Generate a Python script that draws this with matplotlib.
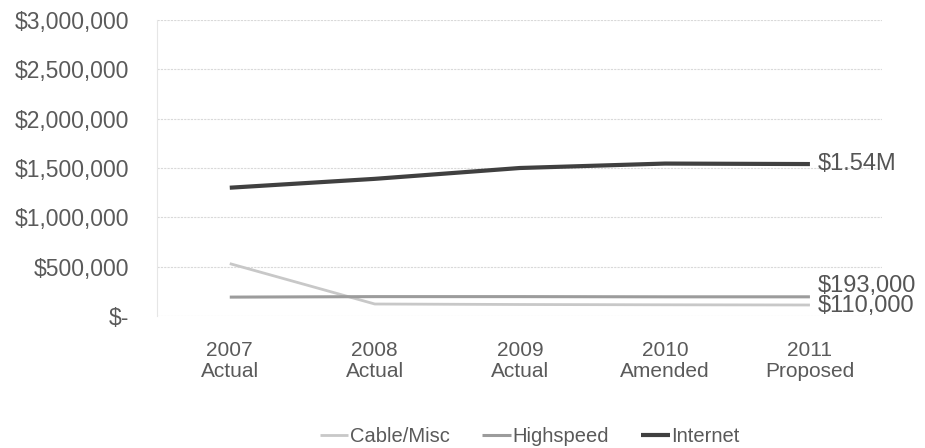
import matplotlib
matplotlib.use("Agg")
import matplotlib.pyplot as plt
from matplotlib.ticker import FuncFormatter

plt.rcParams['font.family'] = ['Liberation Sans', 'DejaVu Sans']

# data
categories = ["2007\nActual", "2008\nActual", "2009\nActual", "2010\nAmended", "2011\nProposed"]
cable_misc = [530000, 120000, 115000, 112000, 110000]
highspeed = [190000, 195000, 195000, 193000, 193000]
internet = [1300000, 1390000, 1500000, 1545000, 1540000]
end_labels = ["$110,000", "$193,000", "$1.54M"]

fig = plt.figure(figsize=(9.25, 4.48), dpi=100)
ax = fig.add_axes([0.170, 0.295, 0.784, 0.660])

x = range(len(categories))
ax.plot(x, cable_misc, color="#c8c8c8", lw=2.0, label="Cable/Misc", solid_capstyle="butt")
ax.plot(x, highspeed, color="#9c9c9c", lw=2.2, label="Highspeed", solid_capstyle="butt")
ax.plot(x, internet, color="#404040", lw=3.0, label="Internet", solid_capstyle="butt")

ax.set_xlim(-0.5, len(categories) - 0.5)
ax.set_ylim(0, 3000000)
ax.set_yticks(range(0, 3000001, 500000))
ax.yaxis.set_major_formatter(FuncFormatter(lambda v, p: "$-" if v == 0 else f"${v:,.0f}"))
ax.set_xticks(list(x))
ax.set_xticklabels(categories, linespacing=1.15)

ax.grid(axis="y", color="#d9d9d9", lw=0.8, ls=(0, (2, 1)))
ax.set_axisbelow(True)
for s in ["top", "right", "bottom"]:
    ax.spines[s].set_visible(False)
ax.spines["left"].set_color("#e6e6e6")
ax.tick_params(axis="both", length=0, labelcolor="#5a5a5a")
ax.tick_params(axis="y", pad=20, labelsize=16.5)
ax.tick_params(axis="x", pad=18, labelsize=15)

# end-of-line value labels
last = len(categories) - 1
ax.annotate(end_labels[0], (last, cable_misc[-1]), xytext=(8, -1), textcoords="offset pixels",
            va="center", ha="left", fontsize=17, color="#555555", annotation_clip=False)
ax.annotate(end_labels[1], (last, highspeed[-1]), xytext=(8, 11), textcoords="offset pixels",
            va="center", ha="left", fontsize=17, color="#555555", annotation_clip=False)
ax.annotate(end_labels[2], (last, internet[-1]), xytext=(8, 0), textcoords="offset pixels",
            va="center", ha="left", fontsize=17, color="#555555", annotation_clip=False)

leg = fig.legend(loc="center", bbox_to_anchor=(0.573, 0.025), ncol=3, frameon=False,
                 fontsize=14.5, handlelength=1.4, handletextpad=0.1, columnspacing=1.6)
for t in leg.get_texts():
    t.set_color("#5a5a5a")

fig.savefig("out.png", dpi=100, facecolor="white")
